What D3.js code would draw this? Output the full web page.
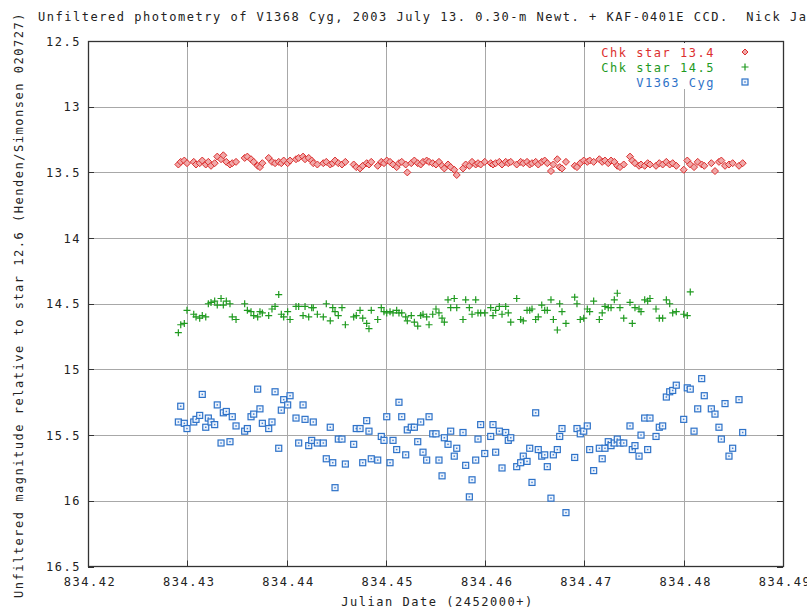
<!DOCTYPE html>
<html><head><meta charset="utf-8">
<script src="https://cdn.jsdelivr.net/npm/d3@7"></script>
<style>
html,body{margin:0;padding:0;background:#fff;}
svg text{font-family:"DejaVu Sans Mono","Liberation Mono",monospace;font-size:12px;letter-spacing:1.52px;fill:#222;white-space:pre;}
</style></head>
<body><svg id="c" width="807" height="610"></svg>
<script>
// ---- data ----
const titleText = "Unfiltered photometry of V1368 Cyg, 2003 July 13. 0.30-m Newt. + KAF-0401E CCD.  Nick James";
const xLabel = "Julian Date (2452000+)";
const yLabel = "Unfiltered magnitude relative to star 12.6 (Henden/Simonsen 020727)";
const xTicks = [834.42, 834.43, 834.44, 834.45, 834.46, 834.47, 834.48, 834.49];
const yTicks = [12.5, 13, 13.5, 14, 14.5, 15, 15.5, 16, 16.5];
const seriesNames = ["Chk star 13.4", "Chk star 14.5", "V1363 Cyg"];

const times = [
834.42910,834.42934,834.42970,834.42997,834.43065,834.43088,834.43125,834.43151,834.43186,834.43212,
834.43239,834.43276,834.43302,834.43340,834.43363,834.43393,834.43430,834.43453,834.43491,834.43578,
834.43605,834.43642,834.43669,834.43709,834.43732,834.43756,834.43820,834.43853,834.43884,834.43921,
834.43947,834.43971,834.44011,834.44035,834.44095,834.44122,834.44166,834.44186,834.44223,834.44253,
834.44269,834.44310,834.44370,834.44400,834.44440,834.44465,834.44488,834.44521,834.44558,834.44592,
834.44676,834.44702,834.44740,834.44767,834.44807,834.44830,834.44853,834.44918,834.44954,834.44981,
834.45009,834.45042,834.45072,834.45109,834.45132,834.45160,834.45200,834.45216,834.45256,834.45287,
834.45321,834.45351,834.45374,834.45411,834.45435,834.45472,834.45505,834.45535,834.45566,834.45589,
834.45626,834.45653,834.45689,834.45714,834.45777,834.45804,834.45841,834.45868,834.45905,834.45928,
834.45955,834.45996,834.46056,834.46079,834.46106,834.46143,834.46170,834.46207,834.46233,834.46258,
834.46318,834.46358,834.46384,834.46422,834.46449,834.46472,834.46509,834.46535,834.46570,834.46600,
834.46626,834.46663,834.46687,834.46727,834.46751,834.46774,834.46814,834.46902,834.46925,834.46958,
834.46993,834.47029,834.47053,834.47093,834.47150,834.47179,834.47207,834.47240,834.47268,834.47301,
834.47331,834.47358,834.47396,834.47459,834.47482,834.47509,834.47550,834.47570,834.47607,834.47637,
834.47660,834.47721,834.47754,834.47788,834.47825,834.47859,834.47889,834.47925,834.48000,834.48036,
834.48066,834.48104,834.48141,834.48181,834.48207,834.48278,834.48315,834.48355,834.48379,834.48416,
834.48456,834.48493,834.48557,834.48594
];

const chk134 = [
13.44,13.42,13.41,13.43,13.42,13.44,13.43,13.41,13.44,13.42,
13.45,13.43,13.38,13.40,13.37,13.42,13.44,13.43,13.42,13.39,
13.38,13.40,13.42,13.45,13.46,13.43,13.39,13.42,13.43,13.42,
13.43,13.41,13.43,13.41,13.40,13.39,13.38,13.40,13.39,13.41,
13.43,13.44,13.43,13.42,13.44,13.43,13.41,13.43,13.44,13.42,
13.44,13.46,13.47,13.45,13.43,13.44,13.42,13.45,13.42,13.43,
13.41,13.42,13.44,13.46,13.43,13.42,13.44,13.50,13.43,13.41,
13.43,13.44,13.42,13.41,13.42,13.43,13.44,13.42,13.45,13.47,
13.44,13.46,13.48,13.52,13.47,13.44,13.45,13.42,13.44,13.43,
13.44,13.42,13.43,13.44,13.43,13.42,13.44,13.42,13.43,13.42,
13.44,13.42,13.43,13.42,13.44,13.43,13.42,13.44,13.42,13.41,
13.43,13.49,13.44,13.40,13.46,13.47,13.42,13.45,13.46,13.43,
13.41,13.42,13.41,13.42,13.40,13.42,13.41,13.43,13.41,13.42,
13.45,13.46,13.44,13.38,13.41,13.43,13.45,13.44,13.45,13.43,
13.44,13.45,13.43,13.44,13.42,13.44,13.43,13.45,13.48,13.41,
13.44,13.46,13.42,13.44,13.45,13.43,13.49,13.42,13.41,13.45,
13.44,13.43,13.45,13.43
];

const chk145 = [
14.72,14.66,14.65,14.55,14.58,14.60,14.61,14.59,14.60,14.50,
14.49,14.48,14.51,14.46,14.51,14.48,14.50,14.60,14.62,14.50,
14.55,14.56,14.59,14.60,14.56,14.57,14.59,14.54,14.52,14.43,
14.58,14.60,14.56,14.62,14.52,14.52,14.59,14.52,14.60,14.53,
14.53,14.58,14.60,14.50,14.63,14.53,14.56,14.59,14.53,14.66,
14.60,14.59,14.55,14.61,14.65,14.69,14.55,14.62,14.53,14.56,
14.57,14.56,14.57,14.55,14.57,14.57,14.60,14.63,14.59,14.64,
14.67,14.59,14.58,14.60,14.66,14.58,14.54,14.57,14.61,14.64,
14.47,14.53,14.46,14.53,14.62,14.47,14.53,14.58,14.47,14.57,
14.57,14.57,14.53,14.59,14.55,14.52,14.58,14.52,14.57,14.64,
14.46,14.62,14.63,14.55,14.55,14.54,14.62,14.60,14.51,14.55,
14.55,14.47,14.62,14.70,14.50,14.56,14.65,14.45,14.50,14.62,
14.61,14.54,14.56,14.48,14.62,14.57,14.52,14.53,14.53,14.47,
14.42,14.53,14.61,14.49,14.65,14.53,14.54,14.56,14.47,14.48,
14.46,14.54,14.61,14.61,14.47,14.50,14.57,14.56,14.58,14.59,
14.41
];

const v1363 = [
15.40,15.28,15.41,15.45,15.40,15.38,15.35,15.19,15.44,15.37,
15.40,15.42,15.27,15.56,15.33,15.32,15.55,15.36,15.43,15.47,
15.45,15.36,15.34,15.15,15.30,15.41,15.45,15.40,15.17,15.60,
15.31,15.23,15.27,15.20,15.37,15.56,15.27,15.38,15.58,15.54,
15.40,15.56,15.56,15.68,15.44,15.71,15.90,15.53,15.53,15.72,
15.57,15.45,15.45,15.71,15.39,15.47,15.68,15.69,15.51,15.54,
15.36,15.71,15.54,15.61,15.25,15.36,15.65,15.46,15.44,15.44,
15.55,15.40,15.63,15.69,15.36,15.49,15.49,15.69,15.81,15.52,
15.57,15.47,15.66,15.60,15.48,15.73,15.97,15.84,15.69,15.53,
15.42,15.64,15.51,15.42,15.63,15.47,15.75,15.48,15.54,15.52,
15.74,15.71,15.66,15.70,15.60,15.86,15.33,15.61,15.66,15.65,
15.74,15.98,15.65,15.61,15.51,15.45,16.09,15.67,15.45,15.49,
15.47,15.43,15.61,15.77,15.60,15.68,15.60,15.55,15.58,15.56,
15.53,15.56,15.56,15.43,15.61,15.58,15.66,15.50,15.37,15.61,
15.37,15.51,15.44,15.43,15.21,15.17,15.16,15.12,15.38,15.14,
15.15,15.47,15.30,15.07,15.20,15.30,15.34,15.44,15.53,15.26,
15.66,15.60,15.23,15.48
];

// ---- chart ----
const svg = d3.select("#c");
const L = 88, R = 783, T = 41, B = 566.5;
const x = d3.scaleLinear().domain([834.42, 834.49]).range([L, R]);
const y = d3.scaleLinear().domain([12.5, 16.5]).range([T, B]);

const colRed = "#dc2f2f", colGreen = "#1f9a1f", colBlue = "#2e72c8";

// grid
const g = svg.append("g");
g.selectAll(".gx").data(xTicks.slice(1, -1)).enter().append("line")
  .attr("x1", d => Math.round(x(d)) + 0.5).attr("x2", d => Math.round(x(d)) + 0.5)
  .attr("y1", T).attr("y2", B).attr("stroke", "#a8a8a8").attr("stroke-width", 1);
g.selectAll(".gy").data(yTicks.slice(1, -1)).enter().append("line")
  .attr("y1", d => Math.round(y(d)) + 0.5).attr("y2", d => Math.round(y(d)) + 0.5)
  .attr("x1", L).attr("x2", R).attr("stroke", "#a8a8a8").attr("stroke-width", 1);

// ticks (inward, mirrored)
const tk = 6;
xTicks.forEach(d => {
  const xx = Math.round(x(d)) + 0.5;
  g.append("line").attr("x1", xx).attr("x2", xx).attr("y1", B).attr("y2", B - tk).attr("stroke", "#333");
  g.append("line").attr("x1", xx).attr("x2", xx).attr("y1", T).attr("y2", T + tk).attr("stroke", "#333");
});
yTicks.forEach(d => {
  const yy = Math.round(y(d)) + 0.5;
  g.append("line").attr("y1", yy).attr("y2", yy).attr("x1", L).attr("x2", L + tk).attr("stroke", "#333");
  g.append("line").attr("y1", yy).attr("y2", yy).attr("x1", R).attr("x2", R - tk).attr("stroke", "#333");
});

// border
svg.append("rect").attr("x", L + 0.5).attr("y", T + 0.5).attr("width", R - L).attr("height", B - T - 0.5)
  .attr("fill", "none").attr("stroke", "#333").attr("stroke-width", 1.3);

// tick labels
svg.selectAll(".xl").data(xTicks).enter().append("text")
  .attr("x", d => x(d) + 2).attr("y", 586).attr("text-anchor", "middle")
  .text(d => d3.format(".2f")(d));
svg.selectAll(".yl").data(yTicks).enter().append("text")
  .attr("x", 81).attr("y", d => y(d) + 4.5).attr("text-anchor", "end")
  .text(d => String(d));

// titles
svg.append("text").attr("x", 38).attr("y", 21).text(titleText);
svg.append("text").attr("x", (L + R) / 2 + 2).attr("y", 606).attr("text-anchor", "middle").text(xLabel);
svg.append("text").attr("transform", "translate(23," + 305 + ") rotate(-90)")
  .attr("text-anchor", "middle").text(yLabel);

// legend background
svg.append("rect").attr("x", 596).attr("y", 43).attr("width", 158).attr("height", 46).attr("fill", "#fff");

const plot = svg.append("g");
// V1363 Cyg: squares
const blue = times.map((t, i) => ({ t, m: v1363[i] }));
const bs = plot.selectAll(".b").data(blue).enter().append("g")
  .attr("transform", d => `translate(${x(d.t)},${y(d.m)})`);
bs.append("rect").attr("x", -3).attr("y", -3).attr("width", 6).attr("height", 6)
  .attr("fill", "#eef4fc").attr("stroke", colBlue).attr("stroke-width", 1.2);
bs.append("rect").attr("x", -0.75).attr("y", -0.75).attr("width", 1.5).attr("height", 1.5).attr("fill", "#4a86d4");

// Chk 14.5: plus
const green = chk145.map((m, i) => ({ t: times[i], m }));
plot.selectAll(".g").data(green).enter().append("path")
  .attr("transform", d => `translate(${x(d.t)},${y(d.m)})`)
  .attr("d", "M-3.5,0H3.5M0,-3.5V3.5").attr("stroke", colGreen).attr("stroke-width", 1.2).attr("fill", "none");

// Chk 13.4: diamonds
const red = times.map((t, i) => ({ t, m: chk134[i] }));
plot.selectAll(".r").data(red).enter().append("path")
  .attr("transform", d => `translate(${x(d.t)},${y(d.m)})`)
  .attr("d", "M0,-3.5L3.5,0L0,3.5L-3.5,0Z").attr("fill", "#f0a8a8").attr("stroke", colRed).attr("stroke-width", 1);

// legend
const lg = svg.append("g");
const lcols = [colRed, colGreen, colBlue];
seriesNames.forEach((n, i) => {
  const ly = 52 + i * 15;
  lg.append("text").attr("x", 715).attr("y", ly + 4.5).attr("text-anchor", "end")
    .style("fill", lcols[i]).text(n);
  const sg = lg.append("g").attr("transform", `translate(745,${ly})`);
  if (i === 0) sg.append("path").attr("d", "M0,-3L3,0L0,3L-3,0Z").attr("fill", "#f0a8a8").attr("stroke", colRed);
  if (i === 1) sg.append("path").attr("d", "M-3.5,0H3.5M0,-3.5V3.5").attr("stroke", colGreen).attr("stroke-width", 1.2);
  if (i === 2) {
    sg.append("rect").attr("x", -3).attr("y", -3).attr("width", 6).attr("height", 6).attr("fill", "#eef4fc").attr("stroke", colBlue).attr("stroke-width", 1.2);
    sg.append("rect").attr("x", -0.75).attr("y", -0.75).attr("width", 1.5).attr("height", 1.5).attr("fill", "#4a86d4");
  }
});
</script></body></html>
